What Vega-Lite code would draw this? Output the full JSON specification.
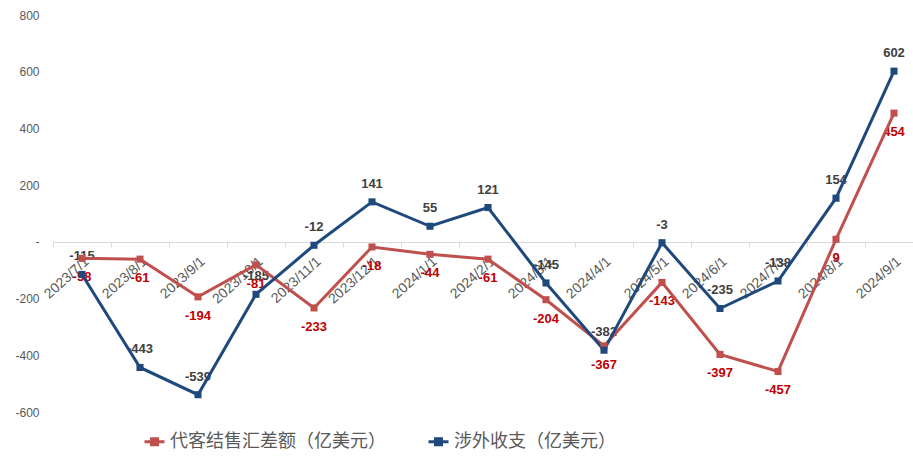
{
  "$schema": "https://vega.github.io/schema/vega-lite/v6.json",
  "width": 860,
  "height": 397,
  "autosize": "none",
  "padding": {"left": 53, "top": 15, "right": 0, "bottom": 47},
  "background": "white",
  "config": {
    "view": {"stroke": null},
    "font": "Liberation Sans",
    "legend": {
      "orient": "none",
      "legendX": 90,
      "legendY": 415,
      "direction": "horizontal",
      "labelFont": "Noto Sans CJK SC",
      "labelFontSize": 18,
      "labelColor": "#595959",
      "labelLimit": 400,
      "symbolType": "M-1,0L1,0M-0.3,-0.3L0.3,-0.3L0.3,0.3L-0.3,0.3Z",
      "symbolSize": 400,
      "symbolStrokeWidth": 3,
      "columnPadding": 36,
      "labelOffset": 4
    }
  },
  "data": {
    "values": [
      {"date": "2023/7/1", "series": "代客结售汇差额（亿美元）", "value": -58},
      {"date": "2023/8/1", "series": "代客结售汇差额（亿美元）", "value": -61},
      {"date": "2023/9/1", "series": "代客结售汇差额（亿美元）", "value": -194},
      {"date": "2023/10/1", "series": "代客结售汇差额（亿美元）", "value": -81},
      {"date": "2023/11/1", "series": "代客结售汇差额（亿美元）", "value": -233},
      {"date": "2023/12/1", "series": "代客结售汇差额（亿美元）", "value": -18},
      {"date": "2024/1/1", "series": "代客结售汇差额（亿美元）", "value": -44},
      {"date": "2024/2/1", "series": "代客结售汇差额（亿美元）", "value": -61},
      {"date": "2024/3/1", "series": "代客结售汇差额（亿美元）", "value": -204},
      {"date": "2024/4/1", "series": "代客结售汇差额（亿美元）", "value": -367},
      {"date": "2024/5/1", "series": "代客结售汇差额（亿美元）", "value": -143},
      {"date": "2024/6/1", "series": "代客结售汇差额（亿美元）", "value": -397},
      {"date": "2024/7/1", "series": "代客结售汇差额（亿美元）", "value": -457},
      {"date": "2024/8/1", "series": "代客结售汇差额（亿美元）", "value": 9},
      {"date": "2024/9/1", "series": "代客结售汇差额（亿美元）", "value": 454},
      {"date": "2023/7/1", "series": "涉外收支（亿美元）", "value": -115},
      {"date": "2023/8/1", "series": "涉外收支（亿美元）", "value": -443},
      {"date": "2023/9/1", "series": "涉外收支（亿美元）", "value": -539},
      {"date": "2023/10/1", "series": "涉外收支（亿美元）", "value": -185},
      {"date": "2023/11/1", "series": "涉外收支（亿美元）", "value": -12},
      {"date": "2023/12/1", "series": "涉外收支（亿美元）", "value": 141},
      {"date": "2024/1/1", "series": "涉外收支（亿美元）", "value": 55},
      {"date": "2024/2/1", "series": "涉外收支（亿美元）", "value": 121},
      {"date": "2024/3/1", "series": "涉外收支（亿美元）", "value": -145},
      {"date": "2024/4/1", "series": "涉外收支（亿美元）", "value": -382},
      {"date": "2024/5/1", "series": "涉外收支（亿美元）", "value": -3},
      {"date": "2024/6/1", "series": "涉外收支（亿美元）", "value": -235},
      {"date": "2024/7/1", "series": "涉外收支（亿美元）", "value": -138},
      {"date": "2024/8/1", "series": "涉外收支（亿美元）", "value": 154},
      {"date": "2024/9/1", "series": "涉外收支（亿美元）", "value": 602}
    ]
  },
  "encoding": {
    "x": {
      "field": "date",
      "type": "ordinal",
      "sort": null,
      "bandPosition": 0.5,
      "scale": {"type": "band", "paddingInner": 0, "paddingOuter": 0, "range": [0, 870]},
      "axis": {
        "title": null,
        "offset": -170,
        "labelAngle": -42,
        "tickBand": "extent",
        "domainColor": "#d9d9d9",
        "domainWidth": 1,
        "tickColor": "#d9d9d9",
        "tickSize": 5,
        "labelColor": "#595959",
        "labelFontSize": 14,
        "labelPadding": 7,
        "grid": false
      }
    },
    "y": {
      "field": "value",
      "type": "quantitative",
      "scale": {"domain": [-600, 800], "nice": false, "zero": false},
      "axis": {
        "title": null,
        "values": [-600, -400, -200, 0, 200, 400, 600, 800],
        "grid": false,
        "domain": false,
        "ticks": false,
        "labelPadding": 14,
        "labelColor": "#595959",
        "labelFontSize": 12,
        "labelExpr": "datum.value == 0 ? '-' : (datum.value < 0 ? '-' + abs(datum.value) : '' + datum.value)"
      }
    }
  },
  "layer": [
    {
      "transform": [{"filter": "datum.series == '涉外收支（亿美元）'"}],
      "mark": {"type": "text", "dy": -18, "fontSize": 13, "fontWeight": "bold", "color": "#404040"},
      "encoding": {"text": {"field": "value", "type": "nominal"}}
    },
    {
      "transform": [{"filter": "datum.series == '代客结售汇差额（亿美元）'"}],
      "mark": {"type": "text", "dy": 19, "fontSize": 13, "fontWeight": "bold", "color": "#C00000"},
      "encoding": {"text": {"field": "value", "type": "nominal"}}
    },
    {
      "mark": {"type": "line", "strokeWidth": 3, "point": {"shape": "square", "size": 50, "filled": true}},
      "encoding": {
        "color": {
          "field": "series",
          "type": "nominal",
          "sort": null,
          "scale": {"domain": ["代客结售汇差额（亿美元）", "涉外收支（亿美元）"], "range": ["#C0504D", "#1F497D"]},
          "legend": {
            "title": null,
            "encode": {"symbols": {"update": {"fill": {"scale": "color", "field": "value"}}}}
          }
        }
      }
    }
  ]
}
